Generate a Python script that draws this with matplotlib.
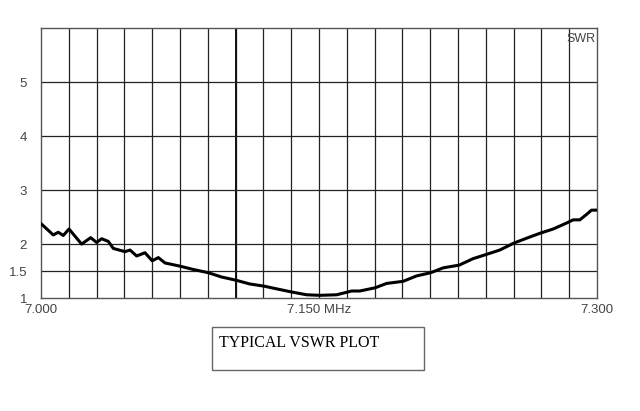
import numpy as np
import matplotlib
matplotlib.use('Agg')
import matplotlib.pyplot as plt
from matplotlib.patches import Rectangle

freq = [7.0000, 7.0066, 7.0093, 7.0120, 7.0151, 7.0219, 7.0268, 7.0300, 7.0327,
        7.0363, 7.0390, 7.0453, 7.0480, 7.0516, 7.0561, 7.0600, 7.0633, 7.0669,
        7.0751, 7.0821, 7.0902, 7.0974, 7.1052, 7.1127, 7.1204, 7.1271, 7.1355,
        7.1433, 7.1505, 7.1595, 7.1676, 7.1720, 7.1803, 7.1864, 7.1954, 7.2026,
        7.2103, 7.2170, 7.2256, 7.2331, 7.2404, 7.2475, 7.2552, 7.2628, 7.2691,
        7.2763, 7.2835, 7.2871, 7.2907, 7.2943, 7.2970, 7.3000]
swr = [2.38, 2.17, 2.22, 2.16, 2.28, 2.00, 2.12, 2.03, 2.10,
       2.05, 1.92, 1.86, 1.89, 1.78, 1.84, 1.69, 1.75, 1.65,
       1.59, 1.53, 1.47, 1.39, 1.33, 1.26, 1.22, 1.17, 1.11,
       1.06, 1.05, 1.06, 1.13, 1.13, 1.19, 1.27, 1.31, 1.41,
       1.47, 1.56, 1.61, 1.73, 1.81, 1.89, 2.02, 2.12, 2.20,
       2.28, 2.39, 2.45, 2.45, 2.55, 2.63, 2.63]

xticks = [7.000, 7.150, 7.300]
xticklabels = ['7.000', '7.150 MHz', '7.300']
yticks = [1, 1.5, 2, 3, 4, 5]
yticklabels = ['1', '1.5', '2', '3', '4', '5']
ygrid = [1.5, 2, 3, 4, 5]
marker_freq = 7.105

fig = plt.figure(figsize=(6.4, 4.11), dpi=100)
ax = fig.add_axes([0.0641, 0.2749, 0.8688, 0.6558])
ax.set_xlim(7.0, 7.3)
ax.set_ylim(1, 6)

for xv in np.linspace(7.0, 7.3, 21)[1:-1]:
    ax.axvline(xv, color='#222222', lw=0.9, zorder=1)
ax.axvline(marker_freq, color='#111111', lw=1.4, zorder=1)
for yv in ygrid:
    ax.axhline(yv, color='#222222', lw=0.9, zorder=1)

ax.plot(freq, swr, color='black', lw=2.2, zorder=3,
        solid_joinstyle='round', solid_capstyle='round')

for s in ax.spines.values():
    s.set_color('#555555')
    s.set_linewidth(1.0)

ax.set_xticks(xticks)
ax.set_xticklabels(xticklabels)
ax.set_yticks(yticks)
ax.set_yticklabels(yticklabels)
ax.tick_params(length=0, labelsize=9.5, labelcolor='#444444')
ax.tick_params(axis='y', pad=10)
ax.tick_params(axis='x', pad=4)
for lab in ax.get_xticklabels() + ax.get_yticklabels():
    lab.set_family('Liberation Sans')

ax.text(0.998, 0.985, 'SWR', transform=ax.transAxes, ha='right', va='top',
        fontsize=9, color='#444444', family='Liberation Sans')

fig.patches.append(Rectangle((212/640, 1-370/411), 212/640, 43/411,
                             transform=fig.transFigure, fill=False,
                             edgecolor='#666666', lw=1.0))
fig.text(219/640, 1-343/411, 'TYPICAL VSWR PLOT', ha='left', va='center',
         fontsize=11.5, family='Liberation Serif', color='black')

fig.savefig('out.png', dpi=100)
